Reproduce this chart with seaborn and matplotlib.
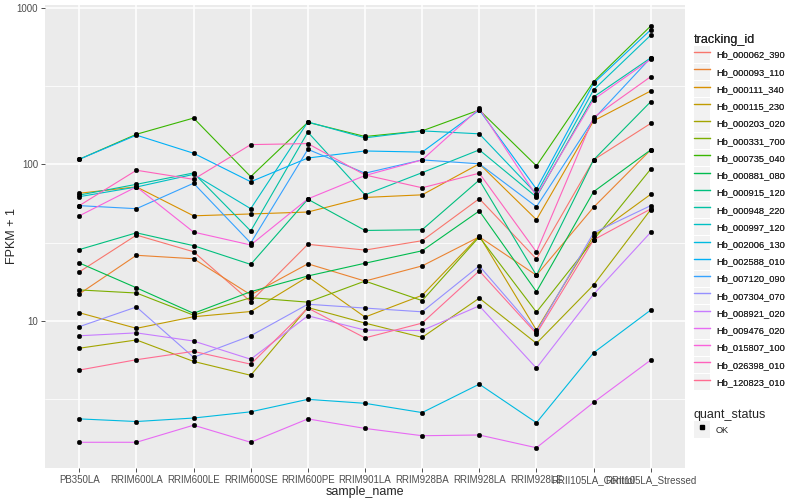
import numpy as np
import pandas as pd
import matplotlib
matplotlib.use("Agg")
import matplotlib.pyplot as plt
from matplotlib.lines import Line2D
from matplotlib.patches import Patch
import seaborn as sns

samples = ["PB350LA", "RRIM600LA", "RRIM600LE", "RRIM600SE", "RRIM600PE",
           "RRIM901LA", "RRIM928BA", "RRIM928LA", "RRIM928LE",
           "RRII105LA_Control", "RRII105LA_Stressed"]

track_ids = ["Hb_000062_390", "Hb_000093_110", "Hb_000111_340", "Hb_000115_230",
             "Hb_000203_020", "Hb_000331_700", "Hb_000735_040", "Hb_000881_080",
             "Hb_000915_120", "Hb_000948_220", "Hb_000997_120", "Hb_002006_130",
             "Hb_002588_010", "Hb_007120_090", "Hb_007304_070", "Hb_008921_020",
             "Hb_009476_020", "Hb_015807_100", "Hb_026398_010", "Hb_120823_010"]

# FPKM + 1 per gene, one value per sample
hb_000062_390 = [20.6, 35.4, 27.7, 13.3, 30.9, 28.4, 32.6, 60.5, 24.9, 107, 183]
hb_000093_110 = [14.9, 26.3, 25.0, 14.7, 23.2, 18.0, 22.5, 34.5, 19.6, 53.3, 124]
hb_000111_340 = [65.5, 72.0, 47.0, 48.3, 49.7, 61.6, 64.0, 101, 44.4, 190, 295]
hb_000115_230 = [11.3, 8.98, 10.65, 11.5, 19.2, 10.6, 14.6, 35.0, 8.75, 35.0, 64.5]
hb_000203_020 = [6.7, 7.57, 5.52, 4.5, 12.2, 9.7, 7.86, 14.0, 7.2, 17.0, 51.5]
hb_000331_700 = [15.8, 15.1, 10.9, 14.1, 13.2, 18.0, 13.5, 34.5, 11.4, 33.0, 93.5]
hb_000735_040 = [108, 156, 198, 83.6, 186, 151, 164, 223, 98, 338, 767]
hb_000881_080 = [23.5, 16.3, 11.2, 15.4, 19.4, 23.4, 28.1, 50.5, 15.4, 67, 124]
hb_000915_120 = [28.6, 36.6, 30.3, 23.0, 60.0, 37.9, 38.3, 79.6, 19.6, 107, 252]
hb_000948_220 = [63.8, 74.7, 88.3, 37.6, 161, 64, 88.7, 124, 62, 270, 480]
hb_000997_120 = [62.3, 71.8, 86.5, 52.2, 187, 148, 164, 157, 65, 300, 670]
hb_002006_130 = [2.37, 2.28, 2.40, 2.63, 3.16, 2.98, 2.60, 3.95, 2.24, 6.27, 11.75]
hb_002588_010 = [108, 154, 118, 77.6, 110, 122, 120, 223, 69.7, 330, 725]
hb_007120_090 = [54.6, 52.2, 75.9, 31.5, 125, 88, 107, 101, 53.7, 195, 480]
hb_007304_070 = [9.2, 12.3, 5.86, 8.05, 12.8, 12.1, 11.45, 22.5, 8.5, 36.6, 54.6]
hb_008921_020 = [8.05, 8.4, 7.45, 5.7, 10.8, 8.75, 8.7, 12.5, 5.0, 14.8, 36.9]
hb_009476_020 = [1.68, 1.68, 2.16, 1.68, 2.37, 2.06, 1.85, 1.87, 1.55, 3.02, 5.63]
hb_015807_100 = [47.0, 72.0, 37.0, 30.6, 60.3, 85.0, 107, 228, 63, 260, 470]
hb_026398_010 = [54.6, 91.9, 80.4, 134, 136, 85.7, 71.0, 88.0, 27.6, 200, 364]
hb_120823_010 = [4.86, 5.66, 6.4, 5.3, 12.1, 7.8, 9.7, 20.9, 8.3, 33.0, 52.0]

series = [hb_000062_390, hb_000093_110, hb_000111_340, hb_000115_230, hb_000203_020,
          hb_000331_700, hb_000735_040, hb_000881_080, hb_000915_120, hb_000948_220,
          hb_000997_120, hb_002006_130, hb_002588_010, hb_007120_090, hb_007304_070,
          hb_008921_020, hb_009476_020, hb_015807_100, hb_026398_010, hb_120823_010]

# ggplot default hue palette for 20 levels
colors = ["#F8766D", "#EA8331", "#D89000", "#C09B00", "#A3A500", "#7CAE00", "#39B600",
          "#00BB4E", "#00BF7D", "#00C1A3", "#00BFC4", "#00BAE0", "#00B0F6", "#35A2FF",
          "#9590FF", "#C77CFF", "#E76BF3", "#FA62DB", "#FF62BC", "#FF6C91"]

rows = []
for tid, vals in zip(track_ids, series):
    for s, v in zip(samples, vals):
        rows.append({"tracking_id": tid, "sample_name": s, "fpkm": v})
df = pd.DataFrame(rows)
df["xpos"] = df["sample_name"].map({s: i for i, s in enumerate(samples)})

sns.set_theme(style="darkgrid", rc={
    "axes.facecolor": "#EBEBEB",
    "grid.color": "white",
    "axes.edgecolor": "#EBEBEB",
})
plt.rcParams["font.family"] = ["Liberation Sans", "DejaVu Sans"]

fig = plt.figure(figsize=(8, 5), dpi=100)
ax = fig.add_axes([45 / 800, 1 - 468 / 500, 640 / 800, 463 / 500])

sns.lineplot(data=df, x="xpos", y="fpkm", hue="tracking_id", hue_order=track_ids,
             palette=colors, estimator=None, sort=True, linewidth=0.8,
             legend=False, ax=ax)
sns.scatterplot(data=df, x="xpos", y="fpkm", color="black", s=11,
                edgecolor="black", linewidth=0.3, legend=False, ax=ax, zorder=5)

ax.set_yscale("log")
ax.set_ylim(10 ** 0.061, 10 ** 3.019)
ax.set_xlim(-0.6, 10.6)
ax.set_yticks([10, 100, 1000])
ax.set_yticklabels(["10", "100", "1000"])
ax.set_yticks([10 ** 0.5, 10 ** 1.5, 10 ** 2.5], minor=True)
ax.set_xticks(range(len(samples)))
ax.set_xticklabels(samples)
ax.grid(which="major", color="white", linewidth=1.1)
ax.grid(which="minor", axis="y", color="white", linewidth=0.55)
ax.tick_params(which="major", length=3, width=0.6, color="#333333",
               labelsize=7, labelcolor="#4D4D4D", pad=2, bottom=True, left=True)
ax.tick_params(which="minor", length=0)
ax.set_xlabel("sample_name", fontsize=9, labelpad=1)
ax.set_ylabel("FPKM + 1", fontsize=9, labelpad=0)
ax.yaxis.set_label_coords(-27 / 640, 0.5)
for sp in ax.spines.values():
    sp.set_visible(False)

handles = [(Patch(facecolor="#F2F2F2", edgecolor="none"),
            Line2D([], [], color=c, linewidth=1.0)) for c in colors]
leg1 = fig.legend(handles, track_ids, title="tracking_id", loc="upper left",
                  bbox_to_anchor=(690 / 800, 1 - 30 / 500), frameon=False,
                  fontsize=6.7, title_fontsize=9, handlelength=1.8, handleheight=2.35,
                  labelspacing=0.08, handletextpad=0.6, alignment="left",
                  borderaxespad=0)
fig.add_artist(leg1)

h2 = [(Patch(facecolor="#F2F2F2", edgecolor="none"),
       Line2D([], [], color="black", marker="s", markersize=2.5, linestyle="none"))]
fig.legend(h2, ["OK"], title="quant_status", loc="upper left",
           bbox_to_anchor=(690 / 800, 1 - 405 / 500), frameon=False,
           fontsize=6.7, title_fontsize=9, handlelength=1.8, handleheight=2.35,
           labelspacing=0.08, handletextpad=0.6, alignment="left", borderaxespad=0)

fig.savefig("out.png", dpi=100)
